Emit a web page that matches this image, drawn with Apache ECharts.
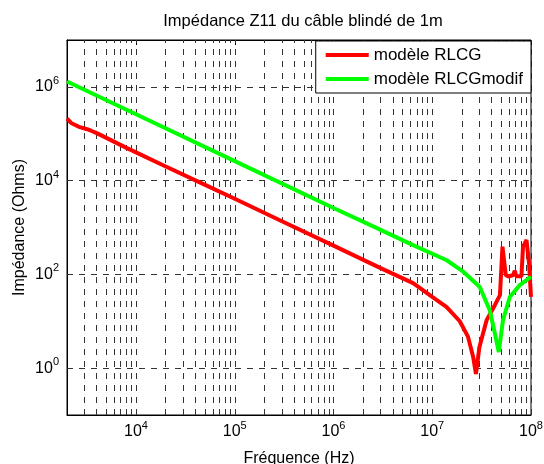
<!DOCTYPE html>
<html>
<head>
<meta charset="UTF-8">
<title></title>
<style>
  html, body { margin: 0; padding: 0; background: #fff; }
  #chart { width: 544px; height: 464px; }
</style>
<script src="https://cdn.jsdelivr.net/npm/echarts@6/dist/echarts.min.js"></script>
</head>
<body>
<div id="chart"></div>
<script>
// valeurs (Hz, Ohms)
var freqRLCG = [2000, 2200, 2700, 3200, 3500, 4000, 5500, 8000, 1e4, 2e4, 5e4, 1e5, 3e5, 1e6, 3e6, 6.4e6, 1e7, 1.4e7, 1.9e7, 2.3e7, 2.6e7, 2.77e7, 3.0e7, 3.55e7, 4.3e7, 4.85e7, 5.14e7, 5.55e7, 5.9e7, 6.6e7, 6.85e7, 7.1e7, 8.0e7, 8.3e7, 8.65e7, 9.0e7, 9.55e7, 1e8];
var zRLCG = [2.1e5, 1.7e5, 1.38e5, 1.25e5, 1.16e5, 1.03e5, 7.4e4, 5.0e4, 4.0e4, 2.0e4, 8.1e3, 4.1e3, 1.36e3, 410, 136, 65, 33, 20, 10, 4.7, 1.7, 0.75, 2.8, 10.5, 22, 36, 390, 97, 90, 97, 120, 91, 91, 390, 460, 540, 175, 33];

var freqModif = [2000, 1e4, 1e5, 1e6, 3e6, 6.4e6, 1.4e7, 2.06e7, 3.03e7, 3.83e7, 4.3e7, 4.72e7, 5.2e7, 6.1e7, 7.7e7, 1e8];
var zModif = [1.3e6, 2.6e5, 2.6e4, 2.6e3, 890, 420, 200, 114, 54, 17, 5.6, 2.2, 10.5, 33, 59, 89];

var seriesNames = ['modèle RLCG', 'modèle RLCGmodif'];
var yLabelExps = [0, 2, 4, 6];
var xLabelExps = [4, 5, 6, 7, 8];

var FONT = 'Liberation Sans';

// lignes de grille : décades + sous-graduations 2..9 en x, décades paires en y
var xGrid = [];
for (var d = 3; d < 8; d++) {
  for (var m = 1; m <= 9; m++) {
    var v = m * Math.pow(10, d);
    if (v > 2000) xGrid.push({ xAxis: v });
  }
}
xGrid.push({ xAxis: 1e8 });
var yGrid = yLabelExps.map(function (e) { return { yAxis: Math.pow(10, e) }; });

function pairs(xs, ys) {
  return xs.map(function (x, i) { return [x, ys[i]]; });
}

function powLabel(allowed) {
  return function (v) {
    var e = Math.log10(v);
    var r = Math.round(e);
    if (Math.abs(e - r) > 1e-6 || allowed.indexOf(r) < 0) return '';
    return '{b|10}{s|' + r + '}';
  };
}
var labelRich = {
  b: { fontFamily: FONT, fontSize: 16, color: '#000' },
  s: { fontFamily: FONT, fontSize: 11, color: '#000', padding: [0, 0, 12, 0] }
};

var chart = echarts.init(document.getElementById('chart'));
chart.setOption({
  animation: false,
  backgroundColor: '#fff',
  title: {
    text: 'Impédance Z11 du câble blindé de 1m',
    left: 298, top: 8, textAlign: 'center',
    textStyle: { fontFamily: FONT, fontSize: 16.5, fontWeight: 'normal', color: '#000' }
  },
  legend: {
    data: seriesNames,
    orient: 'vertical',
    right: 13, top: 41,
    z: 20,
    backgroundColor: '#fff',
    borderColor: '#000', borderWidth: 1,
    padding: [5, 8, 5, 10],
    itemGap: 6, itemWidth: 43, itemHeight: 4,
    icon: 'rect', selectedMode: false,
    textStyle: { fontFamily: FONT, fontSize: 17, color: '#000', lineHeight: 18 }
  },
  grid: {
    left: 67, right: 13, top: 40, bottom: 49,
    outerBoundsMode: 'none',
    show: true, borderColor: '#000', borderWidth: 1
  },
  xAxis: [{
    type: 'log', min: 2000, max: 1e8,
    name: 'Fréquence (Hz)', nameLocation: 'middle', nameGap: 36,
    nameMoveOverlap: false,
    nameTextStyle: { fontFamily: FONT, fontSize: 16, color: '#000' },
    axisLine: { lineStyle: { color: '#000' } },
    axisTick: { inside: true, length: 5, lineStyle: { color: '#000' } },
    axisLabel: { formatter: powLabel(xLabelExps), rich: labelRich, margin: 5, showMinLabel: false },
    splitLine: { show: false }
  }, {
    type: 'log', min: 2000, max: 1e8, position: 'top',
    axisLine: { lineStyle: { color: '#000' } },
    axisTick: { inside: true, length: 5, lineStyle: { color: '#000' } },
    axisLabel: { show: false },
    splitLine: { show: false }
  }],
  yAxis: [{
    type: 'log', min: 0.1, max: 1e7,
    name: 'Impédance (Ohms)', nameLocation: 'middle', nameGap: 39,
    nameMoveOverlap: false,
    nameTextStyle: { fontFamily: FONT, fontSize: 16, color: '#000' },
    axisLine: { lineStyle: { color: '#000' } },
    axisTick: { show: false },
    axisLabel: { formatter: powLabel(yLabelExps), rich: labelRich, margin: 8 },
    splitLine: { show: false }
  }],
  series: [{
    type: 'line',
    data: [],
    silent: true,
    z: 1,
    markLine: {
      z: 1,
      silent: true,
      symbol: ['none', 'none'],
      label: { show: false },
      lineStyle: { color: '#333', width: 1, type: [6, 6] },
      data: xGrid.concat(yGrid)
    }
  }, {
    name: seriesNames[0],
    type: 'line',
    data: pairs(freqRLCG, zRLCG),
    showSymbol: false,
    lineStyle: { color: '#ff0000', width: 4 },
    itemStyle: { color: '#ff0000' },
    z: 3
  }, {
    name: seriesNames[1],
    type: 'line',
    data: pairs(freqModif, zModif),
    showSymbol: false,
    lineStyle: { color: '#00ff00', width: 4 },
    itemStyle: { color: '#00ff00' },
    z: 3
  }]
});
</script>
</body>
</html>
